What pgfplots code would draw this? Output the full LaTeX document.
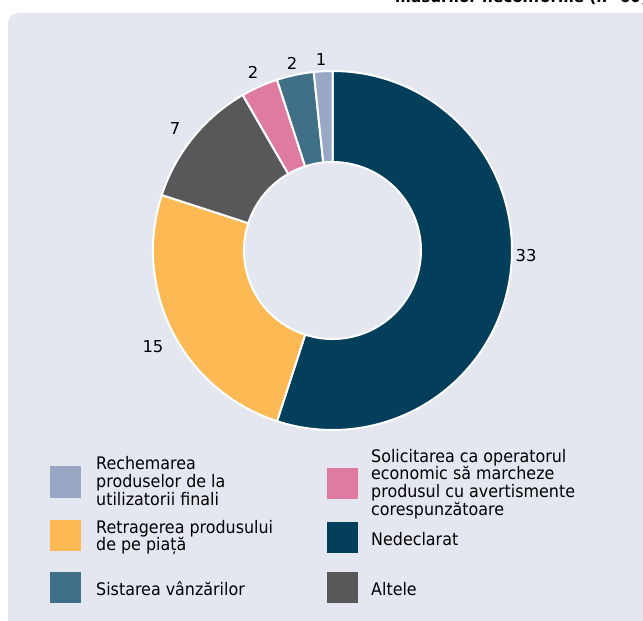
\documentclass[border=0pt]{standalone}
\usepackage{pgfplots}
\pgfplotsset{compat=1.18}
\usepackage{fontspec}
\setmainfont{DejaVu Sans}[FakeStretch=0.92]
\newfontfamily\numfont{DejaVu Sans}
\definecolor{bg}{HTML}{E4E7EF}
\definecolor{cNed}{HTML}{033E5B}
\definecolor{cRet}{HTML}{FDBA54}
\definecolor{cAlt}{HTML}{58585A}
\definecolor{cSol}{HTML}{DF7BA1}
\definecolor{cSis}{HTML}{3F7088}
\definecolor{cRec}{HTML}{98A8C4}
\begin{document}
\begin{tikzpicture}[x=1pt,y=1pt]
\useasboundingbox (0,0) rectangle (643,-621);
\clip (0,0) rectangle (643,-621);
\fill[white] (0,0) rectangle (643,-621);
\fill[bg, rounded corners=10pt] (8,-13) rectangle (670,-650);
\node[anchor=base west, font=\fontsize{16.5}{17}\selectfont\bfseries, inner sep=0pt] at (395,-2.5) {măsurilor neconforme (n=60)};
\begin{axis}[at={(332.5,-250.5)}, anchor=origin, x=1pt, y=1pt,
  xmin=-200, xmax=200, ymin=-200, ymax=200, hide axis, clip=false]
\gdef\cumul{0}
\foreach \v/\c/\lx/\ly in {33/cNed/193.5/-5.5, 15/cRet/-179.5/-96.5, 7/cAlt/-157.5/121.5, 2/cSol/-79.5/178.5, 2/cSis/-40.5/187.5, 1/cRec/-11.5/190.5}{
  \pgfmathsetmacro\a{90-\cumul*6}
  \pgfmathsetmacro\b{90-(\cumul+\v)*6}
  \edef\temp{\noexpand\fill[\c, draw=white, line width=2pt, line join=round] (axis cs:0,0) ++(\a:179.5pt) arc[start angle=\a, end angle=\b, radius=179.5pt] -- ++(\b:-91pt) arc[start angle=\b, end angle=\a, radius=88.5pt] -- cycle;
  \noexpand\node[font=\noexpand\numfont\noexpand\fontsize{16.4}{18}\noexpand\selectfont] at (axis cs:\lx,\ly) {\v};}
  \temp
  \pgfmathsetmacro\n{\cumul+\v}\xdef\cumul{\n}
}
\end{axis}
\tikzset{leg/.style={anchor=west, align=left, inner sep=0pt, font=\fontsize{17.3}{17.7}\selectfont}}
\fill[cRec] (50,-466) rectangle (81,-498);
\node[leg] at (96,-481) {Rechemarea\\produselor de la\\utilizatorii finali};
\fill[cRet] (50,-520) rectangle (81,-551);
\node[leg] at (96,-537.5) {Retragerea produsului\\de pe piață};
\fill[cSis] (50,-572) rectangle (81,-603);
\node[leg] at (96,-589) {Sistarea vânzărilor};
\fill[cSol] (327,-468) rectangle (358,-499);
\node[leg] at (371,-484) {Solicitarea ca operatorul\\economic să marcheze\\produsul cu avertismente\\corespunzătoare};
\fill[cNed] (327,-522) rectangle (358,-553);
\node[leg] at (371,-539) {Nedeclarat};
\fill[cAlt] (327,-572) rectangle (358,-603);
\node[leg] at (371,-589) {Altele};
\end{tikzpicture}
\end{document}
